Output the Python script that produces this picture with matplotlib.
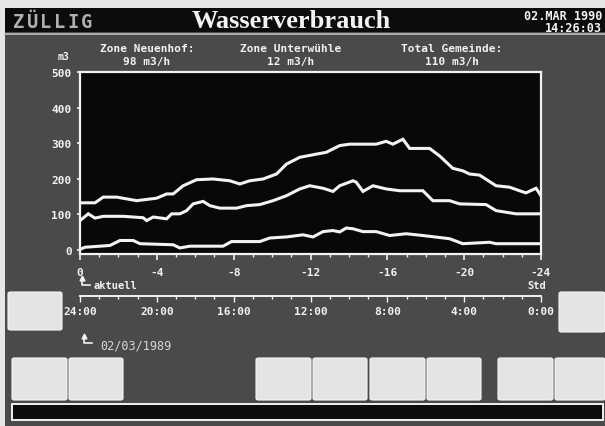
import matplotlib
matplotlib.use("Agg")
import matplotlib.pyplot as plt
from matplotlib.patches import Rectangle, FancyBboxPatch
from matplotlib.lines import Line2D

# ---------------- data ----------------
hours_total = [0, 0.78, 1.21, 1.91, 2.95, 3.99, 4.51, 4.85, 5.37, 6.07, 6.93, 7.80, 8.32, 8.84,
               9.53, 10.23, 10.75, 11.44, 12.31, 12.82, 13.52, 14.04, 15.42, 15.94, 16.29, 16.81,
               17.16, 18.20, 18.72, 19.41, 19.93, 20.28, 20.80, 21.66, 22.36, 22.88, 23.22, 23.74, 24.0]
total = [132, 132, 148, 148, 138, 145, 157, 157, 180, 197, 199, 194, 185, 194, 199, 213, 241, 260,
         269, 274, 293, 297, 297, 305, 297, 311, 285, 285, 264, 229, 222, 213, 210, 180, 176, 166,
         160, 173, 152]

hours_neuenhof = [0, 0.43, 0.78, 1.21, 2.25, 3.29, 3.47, 3.81, 4.51, 4.77, 5.20, 5.55, 5.89, 6.41,
                  6.76, 7.28, 8.15, 8.67, 9.36, 10.05, 10.75, 11.44, 11.96, 12.65, 13.17, 13.52,
                  14.21, 14.38, 14.73, 15.25, 15.94, 16.64, 17.85, 18.37, 19.24, 19.76, 21.14,
                  21.66, 22.70, 24.0]
neuenhof = [82, 101, 89, 94, 94, 90, 82, 92, 87, 101, 101, 110, 129, 136, 124, 117, 117, 124, 127,
            138, 152, 171, 180, 173, 164, 180, 194, 190, 164, 180, 171, 166, 166, 138, 138, 129,
            127, 110, 101, 101]

hours_unterwuehle = [0, 0.26, 1.56, 2.08, 2.77, 3.12, 4.85, 5.20, 5.72, 7.45, 7.89, 9.36, 9.88,
                     10.75, 11.61, 12.13, 12.65, 13.17, 13.52, 13.86, 14.21, 14.73, 15.42, 16.12,
                     16.98, 17.85, 19.24, 19.93, 21.32, 21.66, 24.0]
unterwuehle = [1, 7, 12, 26, 26, 17, 14, 5, 10, 10, 23, 23, 33, 36, 42, 36, 51, 54, 50, 61, 59, 51,
               51, 40, 45, 40, 31, 17, 21, 17, 17]

y_ticks = [0, 100, 200, 300, 400, 500]
x_ticks = [0, -4, -8, -12, -16, -20, -24]
x_tick_labels = ["0", "-4", "-8", "-12", "-16", "-20", "-24"]
clock_labels = ["24:00", "20:00", "16:00", "12:00", "8:00", "4:00", "0:00"]

zone_labels = ["Zone Neuenhof:", "Zone Unterwühle", "Total Gemeinde:"]
zone_values = ["98 m3/h", "12 m3/h", "110 m3/h"]

# ---------------- figure ----------------
W, H = 605, 427
fig = plt.figure(figsize=(W / 100, H / 100), dpi=100)
fig.patch.set_facecolor("#e6e6e6")

BG = "#4a4a4a"
FG = "#f2f2f2"
MONO = "DejaVu Sans Mono"


def rect(x0, y0, x1, y1, z=-10, **kw):
    fig.patches.append(Rectangle((x0 / W, 1 - y1 / H), (x1 - x0) / W, (y1 - y0) / H,
                                 transform=fig.transFigure, figure=fig, zorder=z, **kw))


def ftext(x, y, s, **kw):
    fig.text(x / W, 1 - y / H, s, **kw)


def fline(xs, ys, **kw):
    fig.lines.append(Line2D([x / W for x in xs], [1 - y / H for y in ys],
                            transform=fig.transFigure, figure=fig, **kw))


# screen background
rect(5, 9, 605, 427, facecolor=BG, edgecolor="none")
# title bar
rect(5, 9, 605, 33, facecolor="#0c0c0c", edgecolor="none")
fline([5, 605], [35, 35], color="#bdbdbd", lw=1.2)

# ZÜLLIG logo letters
for i, ch in enumerate("ZÜLLIG"):
    ftext(12 + 13.5 * (i + 0.5), 22, ch, ha="center", va="center", color="#b0b0b0",
          fontsize=13.5, fontweight="bold", family=MONO)

ftext(291, 21, "Wasserverbrauch", ha="center", va="center", color=FG,
      fontsize=19, fontweight="bold", family="Liberation Serif")
ftext(602, 17, "02.MAR 1990", ha="right", va="center", color=FG, fontsize=8.5,
      fontweight="bold", family=MONO)
ftext(602, 29, "14:26:03", ha="right", va="center", color=FG, fontsize=8.5,
      fontweight="bold", family=MONO)

for cx, lab, val in zip([147, 291, 452], zone_labels, zone_values):
    ftext(cx, 49, lab, ha="center", va="center", color=FG, fontsize=8,
          fontweight="bold", family=MONO)
    ftext(cx, 62, val, ha="center", va="center", color=FG, fontsize=8,
          fontweight="bold", family=MONO)

ftext(64, 57, "m3", ha="center", va="center", color=FG, fontsize=7,
      fontweight="bold", family=MONO)

# ---------------- main chart ----------------
px0, px1, py0, py1 = 80, 541, 73, 255
ax = fig.add_axes([px0 / W, 1 - py1 / H, (px1 - px0) / W, (py1 - py0) / H])
ax.set_facecolor("#080808")
for series_h, series_v in [(hours_total, total), (hours_neuenhof, neuenhof),
                           (hours_unterwuehle, unterwuehle)]:
    ax.plot([-h for h in series_h], series_v, color=FG, lw=2.2, solid_joinstyle="miter")
ax.set_xlim(0, -24)
ax.set_ylim(-12, 500)
for s in ax.spines.values():
    s.set_color(FG)
    s.set_linewidth(1.6)
ax.set_yticks(y_ticks)
ax.set_yticklabels([str(v) for v in y_ticks])
ax.set_xticks(x_ticks)
ax.set_xticklabels(x_tick_labels)
ax.set_xticks(range(0, -25, -1), minor=True)
ax.tick_params(axis="y", colors=FG, length=2, width=1.2, pad=4, labelsize=8)
ax.tick_params(axis="x", which="major", colors=FG, length=4, width=1.2, pad=5, labelsize=8)
ax.tick_params(axis="x", which="minor", colors=FG, length=2.5, width=1)
for lab in ax.get_xticklabels() + ax.get_yticklabels():
    lab.set_fontweight("bold")
    lab.set_family(MONO)

# aktuell marker
fline([82, 82, 90], [279, 286, 286], color=FG, lw=1.2)
fig.lines.append(Line2D([82 / W], [1 - 279 / H], marker="^", markersize=3.5, color=FG,
                        transform=fig.transFigure, figure=fig))
ftext(93, 286, "aktuell", ha="left", va="center", color=FG, fontsize=7.5,
      fontweight="bold", family=MONO)
ftext(537, 286, "Std", ha="center", va="center", color=FG, fontsize=7.5,
      fontweight="bold", family=MONO)

# ---------------- clock axis ----------------
ax2 = fig.add_axes([px0 / W, 1 - 297 / H, (px1 - px0) / W, 0.0001])
ax2.set_facecolor("none")
for k in ["left", "right", "bottom"]:
    ax2.spines[k].set_visible(False)
ax2.spines["top"].set_color(FG)
ax2.spines["top"].set_linewidth(1.4)
ax2.set_xlim(0, -24)
ax2.set_yticks([])
ax2.set_xticks(x_ticks)
ax2.set_xticklabels(clock_labels)
ax2.set_xticks(range(0, -25, -1), minor=True)
ax2.tick_params(axis="x", which="major", colors=FG, length=4, width=1, pad=3, labelsize=8)
ax2.tick_params(axis="x", which="minor", colors=FG, length=2.5, width=1)
for lab in ax2.get_xticklabels():
    lab.set_fontweight("bold")
    lab.set_family(MONO)

# date marker
fline([84, 84, 92], [337, 344, 344], color=FG, lw=1.2)
fig.lines.append(Line2D([84 / W], [1 - 337 / H], marker="^", markersize=3.5, color=FG,
                        transform=fig.transFigure, figure=fig))
ftext(100, 346, "02/03/1989", ha="left", va="center", color="#d8d8d8", fontsize=8.5,
      family=MONO)

# ---------------- buttons ----------------
BTN = "#e4e4e4"


def button(x0, y0, x1, y1):
    fig.patches.append(FancyBboxPatch((x0 / W, 1 - y1 / H), (x1 - x0) / W, (y1 - y0) / H,
                                      boxstyle="round,pad=0,rounding_size=0.004",
                                      transform=fig.transFigure, figure=fig,
                                      facecolor=BTN, edgecolor="#f5f5f5", lw=0.8))


button(8, 293, 62, 331)
button(559, 293, 605, 333)
for bx0, bx1 in [(12, 67), (69, 123), (256, 311), (313, 367), (370, 425), (427, 481),
                 (498, 553), (555, 605)]:
    button(bx0, 359, bx1, 401)

# bottom message bar
rect(12, 405, 603, 421, z=1, facecolor="#0c0c0c", edgecolor=FG, lw=1.4)

fig.savefig("out.png", dpi=100, facecolor=fig.get_facecolor())
